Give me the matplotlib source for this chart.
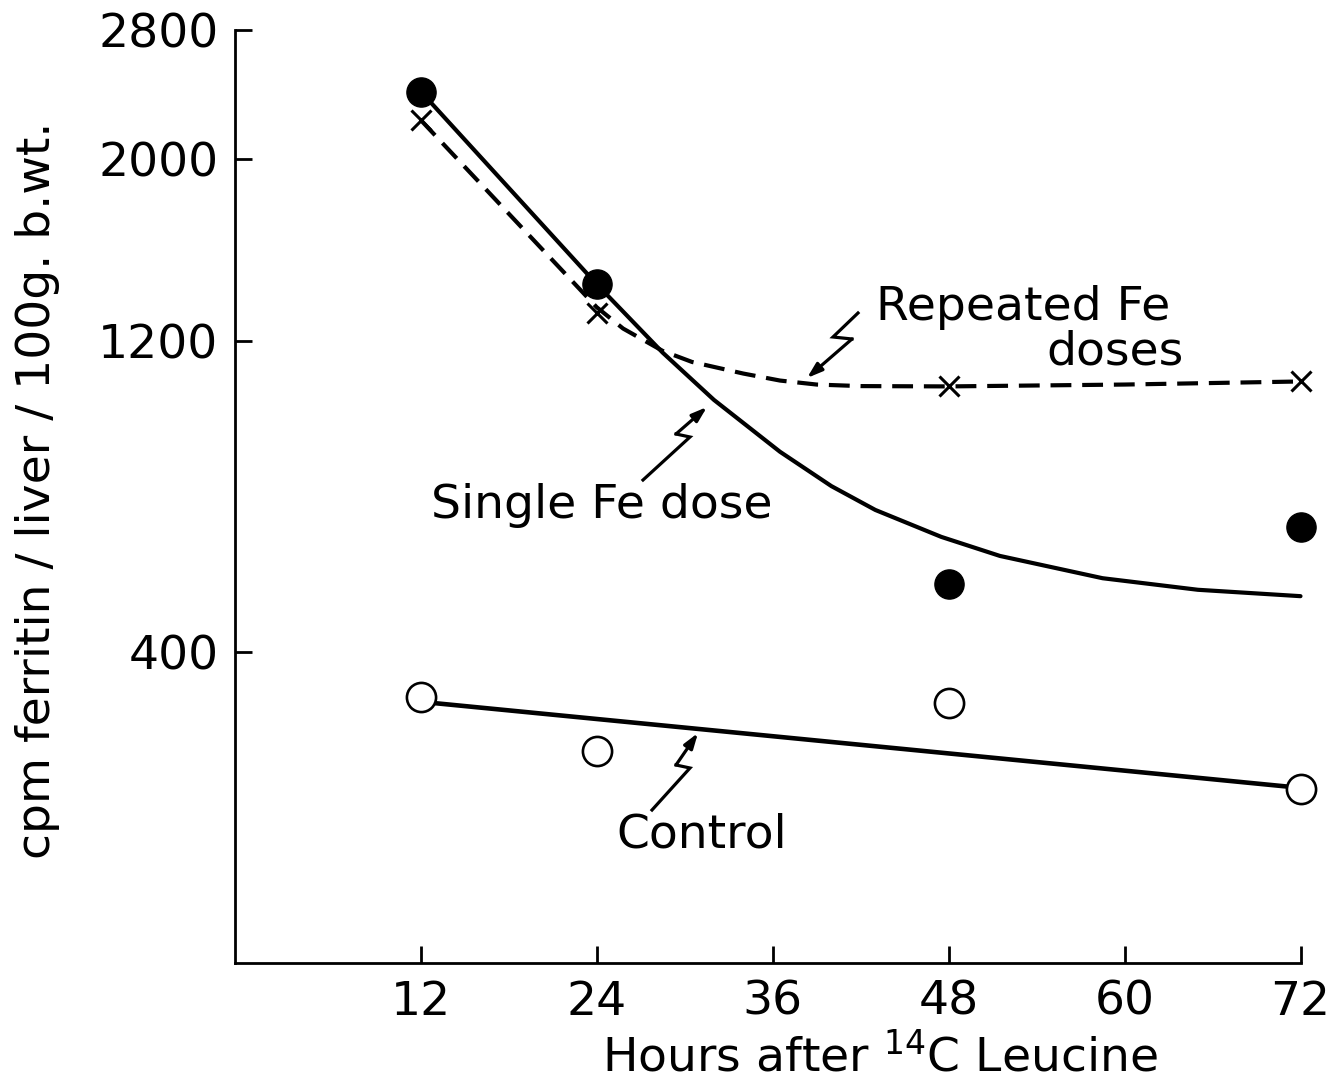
import numpy as np
import matplotlib
matplotlib.use("Agg")
import matplotlib.pyplot as plt
from matplotlib.lines import Line2D

# ---------------- data ----------------
hours = [12, 24, 48, 72]
single_fe = [2390, 1416, 531, 658]          # filled circles
repeated_fe = [2218, 1302, 1047, 1064]      # x markers
control = [323, 242, 314, 189]              # open circles

# hand-drawn fitted curves
single_curve_h = [12, 24, 28.5, 32, 36.5, 40, 43, 47.5, 51.5, 58.5, 65, 72]
single_curve_v = [2390, 1416, 1159, 1003, 850, 758, 698, 634, 591, 543, 519, 506]

repeated_curve_h = [12, 24, 25.8, 28.5, 30.5, 34, 36.5, 39, 42, 48, 60, 72]
repeated_curve_v = [2218, 1325, 1245, 1165, 1127, 1088, 1065, 1052, 1047, 1046, 1052, 1062]

control_line_h = [12, 72]
control_line_v = [316, 191]

x_ticks = [12, 24, 36, 48, 60, 72]
y_ticks = [400, 1200, 2000, 2800]

xlabel = "Hours after $^{14}$C Leucine"
ylabel = "cpm ferritin / liver / 100g. b.wt."

# ---------------- figure ----------------
W, H = 1340, 1083
FS = 34
plt.rcParams['font.family'] = ['DejaVu Sans']
plt.rcParams['mathtext.fontset'] = 'dejavusans'
fig = plt.figure(figsize=(W / 100, H / 100), dpi=100)
ax = fig.add_axes([235 / W, 1 - 963 / H, (1300.5 - 235) / W, (963 - 30) / H])

ax.set_yscale('function', functions=(lambda y: np.log10(np.asarray(y) + 400.0),
                                     lambda v: 10 ** np.asarray(v) - 400.0))
ax.set_xlim(-0.67, 72)
ax.set_ylim(0, 2800)

lw = 3.0
ax.plot(single_curve_h, single_curve_v, color='black', lw=lw, solid_capstyle='round',
        solid_joinstyle='round', clip_on=False)
ax.plot(repeated_curve_h, repeated_curve_v, color='black', lw=lw, dashes=(5, 2.6),
        clip_on=False)
ax.plot(control_line_h, control_line_v, color='black', lw=lw + 0.3, clip_on=False)

ax.plot(hours, single_fe, 'o', color='black', ms=21, clip_on=False, zorder=5)
ax.plot(hours, repeated_fe, 'x', color='black', ms=14, mew=2.2, clip_on=False, zorder=5)
ax.plot(hours, control, 'o', mfc='white', mec='black', ms=21, mew=1.9, clip_on=False,
        zorder=5)

# axes styling
for s in ['top', 'right']:
    ax.spines[s].set_visible(False)
for s in ['left', 'bottom']:
    ax.spines[s].set_linewidth(2.0)
ax.set_xticks(x_ticks)
ax.set_xticklabels([str(t) for t in x_ticks])
ax.set_yticks(y_ticks)
ax.set_yticklabels([str(t) for t in y_ticks])
ax.yaxis.set_minor_locator(matplotlib.ticker.NullLocator())
ax.tick_params(axis='both', direction='in', length=12, width=2, labelsize=FS)
ax.tick_params(axis='x', pad=12)
ax.tick_params(axis='y', pad=12)


def F(px, py):
    return (px / W, 1 - py / H)


fig.text(*F(880, 1057), xlabel, fontsize=FS, ha='center', va='center')
fig.text(*F(38, 490), ylabel, rotation=90, fontsize=FS, ha='center', va='center')

# annotations
fig.text(*F(876, 308), "Repeated Fe", fontsize=FS, ha='left', va='center')
fig.text(*F(1115, 352), "doses", fontsize=FS, ha='center', va='center')
fig.text(*F(602, 505), "Single Fe dose", fontsize=FS, ha='center', va='center')
fig.text(*F(702, 835), "Control", fontsize=FS, ha='center', va='center')


def zigzag(points):
    pts = [F(px, py) for px, py in points]
    xs = [p[0] for p in pts[:-1]]
    ys = [p[1] for p in pts[:-1]]
    fig.add_artist(Line2D(xs, ys, color='black', lw=2.3, transform=fig.transFigure,
                          solid_joinstyle='miter'))
    ax.annotate('', xy=pts[-1], xytext=pts[-2], xycoords='figure fraction',
                textcoords='figure fraction',
                arrowprops=dict(arrowstyle='-|>,head_length=0.9,head_width=0.3',
                                color='black', lw=2.3, shrinkA=0, shrinkB=0))


zigzag([(858, 313), (833, 337), (852, 339), (807, 378)])
zigzag([(643, 480), (690, 437), (676, 434), (707, 407)])
zigzag([(652, 810), (690, 768), (676, 765), (698, 733)])

fig.savefig("out.png", dpi=100, facecolor='white')
